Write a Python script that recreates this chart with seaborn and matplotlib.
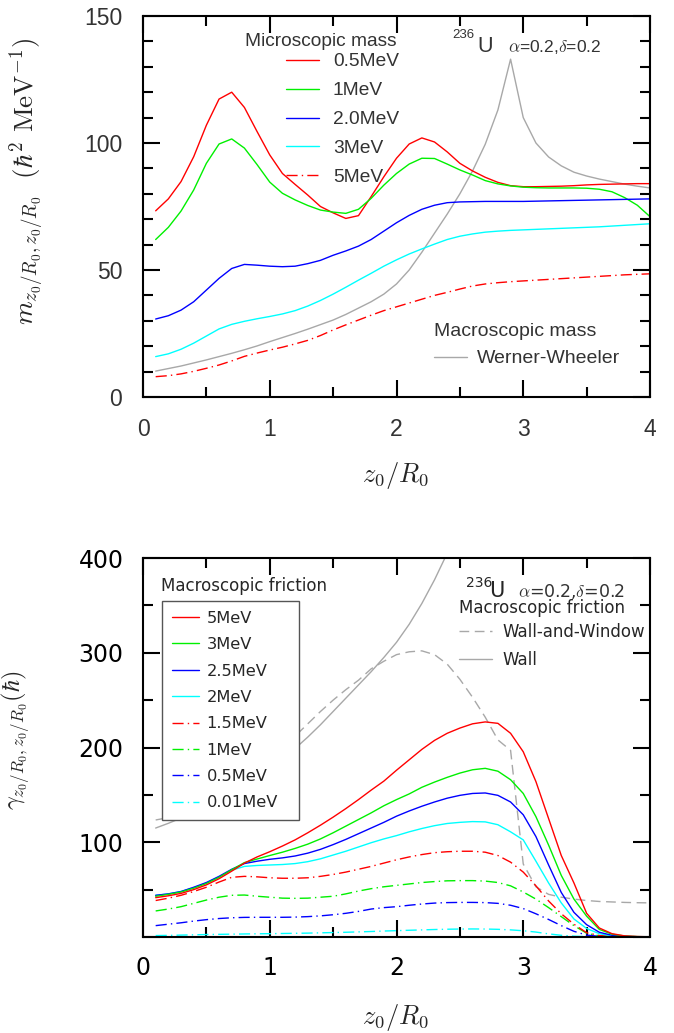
import matplotlib
matplotlib.use("Agg")
import matplotlib.pyplot as plt
import seaborn as sns
from matplotlib.lines import Line2D
from matplotlib.ticker import MultipleLocator

sns.set_style("ticks")
plt.rcParams['font.family'] = ['DejaVu Sans']
plt.rcParams['mathtext.fontset'] = 'cm'

# ---------------- data ----------------
z0 = [round(0.1 * i, 1) for i in range(1, 41)]

# top panel: inertia (mass) parameter
mass_05MeV = [73.3, 78, 84.8, 94.6, 107, 117.3, 120, 114, 104.5, 95.3,
              88, 83.7, 79.5, 75, 72.5, 70.3, 71.4, 78.9, 86.7, 94,
              99.6, 102, 100.4, 96.5, 92, 89, 86.5, 84.5, 83.2, 82.8,
              82.8, 82.9, 83, 83.2, 83.5, 83.7, 83.8, 83.9, 84, 84]
mass_1MeV = [62, 66.8, 73.2, 81.5, 92, 99.6, 101.6, 98, 91.5, 84.6,
             80.2, 77.6, 75.4, 73.6, 72.8, 72.3, 73.9, 78.2, 83.4, 88,
             91.7, 94, 93.9, 91.7, 89.4, 87.4, 85.2, 83.9, 83.1, 82.6,
             82.4, 82.3, 82.3, 82.3, 82.2, 81.8, 80.8, 78.5, 75.5, 71]
mass_2MeV = [30.7, 32, 34.2, 37.5, 42.1, 46.7, 50.6, 52.2, 51.9, 51.5,
             51.3, 51.5, 52.5, 53.8, 55.8, 57.5, 59.4, 62, 65.3, 68.6,
             71.5, 73.9, 75.5, 76.5, 76.8, 76.9, 77, 77, 77, 77,
             77.1, 77.2, 77.3, 77.4, 77.5, 77.6, 77.7, 77.8, 77.9, 78]
mass_3MeV = [15.9, 17, 18.8, 21.2, 24, 26.8, 28.6, 29.8, 30.8, 31.7,
             32.7, 34, 35.8, 38, 40.5, 43.2, 46, 48.7, 51.5, 54,
             56.3, 58.3, 60.2, 62, 63.3, 64.2, 64.9, 65.3, 65.6, 65.8,
             66, 66.2, 66.4, 66.6, 66.8, 67, 67.3, 67.6, 67.9, 68.2]
mass_5MeV = [8.0, 8.4, 9.1, 10.1, 11.3, 12.6, 14.2, 16.0, 17.3, 18.5,
             19.6, 20.9, 22.3, 24.2, 26.4, 28.4, 30.3, 32.2, 34.0, 35.5,
             37.0, 38.5, 40.0, 41.2, 42.5, 43.7, 44.5, 45.0, 45.4, 45.7,
             46.0, 46.3, 46.6, 46.9, 47.2, 47.5, 47.8, 48.1, 48.3, 48.5]
mass_werner_wheeler = [10.2, 11.2, 12.2, 13.4, 14.6, 15.9, 17.2, 18.6, 20.1, 21.8,
                       23.4, 25.0, 26.7, 28.5, 30.3, 32.5, 35.0, 37.5, 40.5, 44.5,
                       50.0, 57.0, 64.5, 72.0, 80.0, 89.0, 99.5, 113.0, 133.0, 110.0,
                       100.0, 94.5, 91.0, 88.5, 87.0, 85.8, 84.8, 83.8, 83.0, 82.3]

# bottom panel: friction parameter
fric_5MeV = [41.5, 43.5, 46, 50, 55, 61.5, 69.5, 78, 84.5, 90,
             96, 102.5, 110, 118, 126.5, 135.5, 145, 155, 164.5, 176,
             187, 198, 207.5, 215, 220.5, 225, 227, 225.5, 215, 195.5,
             164, 125, 86, 57, 25, 9.5, 3.5, 1.2, 0.5, 0.2]
fric_3MeV = [43, 45, 47.5, 51.5, 56.5, 63, 71, 78.5, 82.3, 86,
             89.5, 93.5, 98, 103.5, 110, 117, 124, 131, 138.5, 145,
             151, 158, 163.5, 168.5, 173, 176.5, 178, 175, 166, 151.5,
             127, 97, 65, 40, 22, 8, 3, 1, 0.4, 0.2]
fric_25MeV = [44, 45.5, 48, 52.5, 57.5, 64, 71.5, 77.5, 80, 82,
              83.5, 85.5, 88.5, 92.5, 97.5, 103, 109, 115, 121, 127.5,
              133, 138, 142.5, 146.5, 149.5, 151.5, 152, 149.5, 142.5, 129,
              106, 76, 47, 26, 13, 5, 1.8, 0.7, 0.3, 0.1]
fric_2MeV = [44, 45.5, 48, 52, 57, 63.5, 70.5, 74.5, 75.5, 76,
             76.5, 77.5, 79.5, 82.5, 86.5, 90.5, 95, 99.5, 103.5, 107,
             111, 114.5, 117.5, 119.8, 121, 121.8, 121.5, 118.5, 111, 102.5,
             80, 57, 36, 19, 9, 3.5, 1.2, 0.5, 0.2, 0.1]
fric_15MeV = [38.5, 41, 44, 48, 52.5, 58, 63, 64, 63.5, 62.5,
              62, 62, 62.5, 64, 66, 68.5, 71.5, 74.5, 78, 81.5,
              84.5, 87, 89, 90, 90.5, 90.5, 89.5, 86, 79, 68.5,
              54, 38, 24.5, 13.5, 4.5, 1.5, 0.6, 0.3, 0.2, 0.1]
fric_1MeV = [27.5, 29.5, 32, 35.5, 39, 42, 44, 44.3, 43, 42,
             41, 40.8, 41, 42, 43, 45.5, 48.5, 51, 53, 54.5,
             56, 57.5, 58.5, 59.3, 59.5, 59.5, 59, 57.5, 54, 47.5,
             40, 31, 21.5, 12, 4, 1.2, 0.5, 0.2, 0.1, 0.1]
fric_05MeV = [12, 13.5, 15, 16.8, 18.3, 19.5, 20.3, 20.7, 20.8, 20.8,
              20.8, 21, 21.5, 22.3, 23.5, 25, 27, 29.5, 31, 32,
              33.5, 34.8, 35.8, 36.3, 36.5, 36.5, 36.3, 35.5, 33.5, 30,
              24.5, 18.5, 12, 6, 2, 0.7, 0.3, 0.2, 0.1, 0.1]
fric_001MeV = [1.5, 1.7, 2.0, 2.3, 2.6, 2.8, 3.0, 3.2, 3.4, 3.5,
               3.7, 3.9, 4.1, 4.4, 4.7, 5.0, 5.4, 5.8, 6.3, 6.7,
               7.1, 7.5, 7.9, 8.2, 8.4, 8.5, 8.4, 8.1, 7.5, 6.6,
               5.2, 3.3, 1.8, 0.9, 0.4, 0.2, 0.1, 0.1, 0.05, 0.05]
fric_wall_window = [123.5, 126, 130, 135, 140, 147, 155, 164, 175, 187,
                    199, 212, 225, 238, 250, 261, 271, 283, 291, 298,
                    301, 302, 298, 288, 272, 253, 232, 208, 197, 77,
                    53, 45, 42, 40, 38.5, 37.5, 37, 36.5, 36.2, 36]
fric_wall = [115, 120, 125.5, 131.5, 138, 145, 152.5, 160.5, 169, 178,
             188, 199, 211, 224, 238, 252, 266, 280, 295, 311,
             330, 352, 377, 405, 436]

x_ticks = [0, 1, 2, 3, 4]
x_ticklabels = ["0", "1", "2", "3", "4"]
top_yticks = [0, 50, 100, 150]
top_yticklabels = ["0", "50", "100", "150"]
bot_yticks = [0, 100, 200, 300, 400]
bot_yticklabels = ["", "100", "200", "300", "400"]

mass_labels = ["0.5MeV", "1MeV", "2.0MeV", "3MeV", "5MeV"]
fric_labels = ["5MeV", "3MeV", "2.5MeV", "2MeV", "1.5MeV", "1MeV", "0.5MeV", "0.01MeV"]

# ---------------- style ----------------
RED, GREEN, BLUE, CYAN, GRAY = '#ff0000', '#00f000', '#0000ff', '#00ffff', '#a8a8a8'
SOLID = '-'
DD = (0, (8, 3, 1, 3))
DASH = (0, (7, 4))
LW = 1.0
DARK = '#333333'

W, H = 674, 1033
fig = plt.figure(figsize=(W / 100, H / 100), dpi=100)
ax1 = fig.add_axes([143 / W, 1 - 397 / H, 507 / W, 381 / H])
ax2 = fig.add_axes([143 / W, 1 - 937 / H, 507 / W, 379 / H])


def draw(ax, y, color, ls, x=None):
    if x is None:
        x = z0[:len(y)]
    sns.lineplot(x=x, y=y, ax=ax, color=color, linestyle=ls, linewidth=LW,
                 legend=False, errorbar=None, sort=False)


def handle(color, ls):
    return Line2D([], [], color=color, linestyle=ls, linewidth=LW)


def style_axes(ax, ymax, yticks, yticklabels, yminor, font, color, size, pad):
    ax.set_xlim(0, 4)
    ax.set_ylim(0, ymax)
    ax.set_xticks(x_ticks)
    ax.set_xticklabels(x_ticklabels, fontfamily=font, color=color, fontsize=size)
    ax.set_yticks(yticks)
    ax.set_yticklabels(yticklabels, fontfamily=font, color=color, fontsize=size)
    ax.xaxis.set_minor_locator(MultipleLocator(0.5))
    ax.yaxis.set_minor_locator(MultipleLocator(yminor))
    ax.tick_params(which='both', direction='in', top=True, right=True,
                   width=1.5, color='black')
    ax.tick_params(which='major', length=12, pad=pad)
    ax.tick_params(which='minor', length=7)
    for s in ax.spines.values():
        s.set_linewidth(1.5)
        s.set_color('black')
        s.set_visible(True)


# ---------------- top panel ----------------
draw(ax1, mass_werner_wheeler, GRAY, SOLID)
draw(ax1, mass_05MeV, RED, SOLID)
draw(ax1, mass_1MeV, GREEN, SOLID)
draw(ax1, mass_2MeV, BLUE, SOLID)
draw(ax1, mass_3MeV, CYAN, SOLID)
draw(ax1, mass_5MeV, RED, DD)
style_axes(ax1, 150, top_yticks, top_yticklabels, 10, 'Liberation Sans', DARK, 16.5, 15)

ax1.set_xlabel(r'$z_0/R_0$', fontsize=19)
ax1.xaxis.set_label_coords(0.497, -0.165)
ax1.set_ylabel(r'$m_{z_0/R_0,z_0/R_0}\ \ (\hbar^2\ \mathrm{MeV}^{-1})$', fontsize=19.5)
ax1.yaxis.set_label_coords(-0.19, 0.565)

fig.text(397 / W, 1 - 42 / H, 'Microscopic mass', fontsize=13.8, family='Liberation Sans',
         color=DARK, ha='right', va='center')
leg1 = ax1.legend([handle(RED, SOLID), handle(GREEN, SOLID), handle(BLUE, SOLID),
                   handle(CYAN, SOLID), handle(RED, DD)], mass_labels,
                  loc='upper right',
                  bbox_to_anchor=(399 / W, 1 - 53 / H), bbox_transform=fig.transFigure,
                  frameon=False, borderpad=0, borderaxespad=0,
                  handlelength=1.75, handletextpad=0.7, labelspacing=0.6,
                  prop={'family': 'Liberation Sans', 'size': 13.8},
                  labelcolor=DARK)
ax1.add_artist(leg1)
leg2 = ax1.legend([handle(GRAY, SOLID)], ['Werner-Wheeler'],
                  title='Macroscopic mass', loc='upper left',
                  bbox_to_anchor=(434 / W, 1 - 323 / H), bbox_transform=fig.transFigure,
                  frameon=False, borderpad=0, borderaxespad=0, alignment='left',
                  handlelength=1.7, handletextpad=0.5,
                  prop={'family': 'Liberation Sans', 'size': 14},
                  title_fontproperties={'family': 'Liberation Sans', 'size': 14},
                  labelcolor=DARK)
leg2.get_title().set_color(DARK)

fig.text(452 / W, 1 - 38 / H, '236', fontsize=9.5, family='Liberation Sans', color=DARK, va='baseline')
fig.text(477 / W, 1 - 52 / H, 'U', fontsize=15.5, family='Liberation Sans', color=DARK, va='baseline')
fig.text(508 / W, 1 - 52 / H, r'$\alpha$=0.2,$\delta$=0.2', fontsize=12.5,
         family='Liberation Sans', color=DARK, va='baseline')

# ---------------- bottom panel ----------------
draw(ax2, fric_wall, GRAY, SOLID)
draw(ax2, fric_wall_window, GRAY, DASH)
draw(ax2, fric_001MeV, CYAN, DD)
draw(ax2, fric_05MeV, BLUE, DD)
draw(ax2, fric_1MeV, GREEN, DD)
draw(ax2, fric_15MeV, RED, DD)
draw(ax2, fric_2MeV, CYAN, SOLID)
draw(ax2, fric_25MeV, BLUE, SOLID)
draw(ax2, fric_3MeV, GREEN, SOLID)
draw(ax2, fric_5MeV, RED, SOLID)
style_axes(ax2, 400, bot_yticks, bot_yticklabels, 50, 'DejaVu Sans', 'black', 17, 14)

ax2.set_xlabel(r'$z_0/R_0$', fontsize=19)
ax2.xaxis.set_label_coords(0.497, -0.172)
ax2.set_ylabel(r'$\gamma_{z_0/R_0,z_0/R_0}(\hbar)$', fontsize=17.5)
ax2.yaxis.set_label_coords(-0.219, 0.52)

fric_handles = [handle(RED, SOLID), handle(GREEN, SOLID), handle(BLUE, SOLID),
                handle(CYAN, SOLID), handle(RED, DD), handle(GREEN, DD),
                handle(BLUE, DD), handle(CYAN, DD)]
leg3 = ax2.legend(fric_handles, fric_labels, loc='upper left',
                  bbox_to_anchor=(162 / W, 1 - 817 / H, 137 / W, 216 / H),
                  bbox_transform=fig.transFigure, mode='expand',
                  frameon=True, fancybox=False, edgecolor='#555555', framealpha=1,
                  borderpad=0.6, borderaxespad=0, handlelength=1.65, handletextpad=0.5,
                  labelspacing=0.7, prop={'family': 'DejaVu Sans', 'size': 11.7})
leg3.get_frame().set_linewidth(1.0)
ax2.add_artist(leg3)
fig.text(161 / W, 1 - 586 / H, 'Macroscopic friction', fontsize=12, va='center')

fig.text(459 / W, 1 - 608 / H, 'Macroscopic friction', fontsize=12, va='center')
leg4 = ax2.legend([handle(GRAY, DASH), handle(GRAY, SOLID)], ['Wall-and-Window', 'Wall'],
                  loc='upper left',
                  bbox_to_anchor=(459 / W, 1 - 623 / H), bbox_transform=fig.transFigure,
                  frameon=False, borderpad=0, borderaxespad=0,
                  handlelength=2.0, handletextpad=0.6, labelspacing=0.62,
                  prop={'family': 'DejaVu Sans', 'size': 12})

fig.text(466 / W, 1 - 587 / H, '236', fontsize=10, va='baseline')
fig.text(489 / W, 1 - 597 / H, 'U', fontsize=15, va='baseline')
fig.text(518 / W, 1 - 597 / H, r'$\alpha$=0.2,$\delta$=0.2', fontsize=12.5, va='baseline',
         color='#333333')

fig.savefig('out.png', dpi=100)
